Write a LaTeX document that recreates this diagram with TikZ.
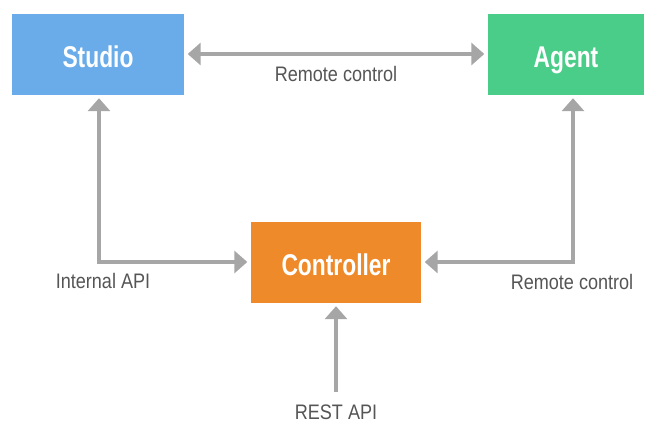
\documentclass[tikz,border=0pt]{standalone}
\usepackage{fontspec}
\usepackage{tikz}
\usetikzlibrary{calc}
\usetikzlibrary{arrows.meta}
\newfontfamily\boxfont[FakeStretch=0.76]{Liberation Sans}
\newfontfamily\labfont[FakeStretch=0.86]{Liberation Sans}
\definecolor{studioblue}{HTML}{6AABEA}
\definecolor{agentgreen}{HTML}{4ACD88}
\definecolor{ctrlorange}{HTML}{EF8A2A}
\definecolor{linkgray}{HTML}{A6A6A6}
\definecolor{labgray}{HTML}{555555}

\begin{document}
\begin{tikzpicture}[x=1pt, y=-1pt,
  unit/.style={minimum height=81pt, inner sep=0pt, text=white,
    text height=26pt, text depth=0pt,
    font=\boxfont\bfseries\fontsize{30}{34}\selectfont},
  link/.style={linkgray, line width=3.6pt,
    {Triangle[length=13pt,width=22pt]}-{Triangle[length=13pt,width=22pt]},
    shorten <=3.5pt, shorten >=3.5pt},
  lab/.style={text=labgray, inner sep=0pt,
    font=\labfont\fontsize{21}{25}\selectfont}]
\useasboundingbox (0,0) rectangle (648,423);
% the three units
\node[unit, fill=studioblue, minimum width=172pt] (studio) at (98,54) {Studio};
\node[unit, fill=agentgreen, minimum width=156pt] (agent) at (566,54) {Agent};
\node[unit, fill=ctrlorange, minimum width=170pt] (controller) at (336,262) {Controller};
\coordinate (rest) at (336,395);
% connections
\draw[link] (studio) -- (agent);
\draw[link] ([xshift=1pt]studio.south) |- (controller);
\draw[link] ([xshift=7pt]agent.south) |- (controller);
\draw[link, {Triangle[length=13pt,width=22pt]}-] (controller) -- (rest);
% labels
\node[lab] (toplab) at (336,74) {Remote control};
\node[lab] (leftlab) at (103,281) {Internal API};
\node[lab] (rightlab) at (572,282) {Remote control};
\node[lab] (restlab) at (336,412) {REST API};
\end{tikzpicture}
\end{document}
